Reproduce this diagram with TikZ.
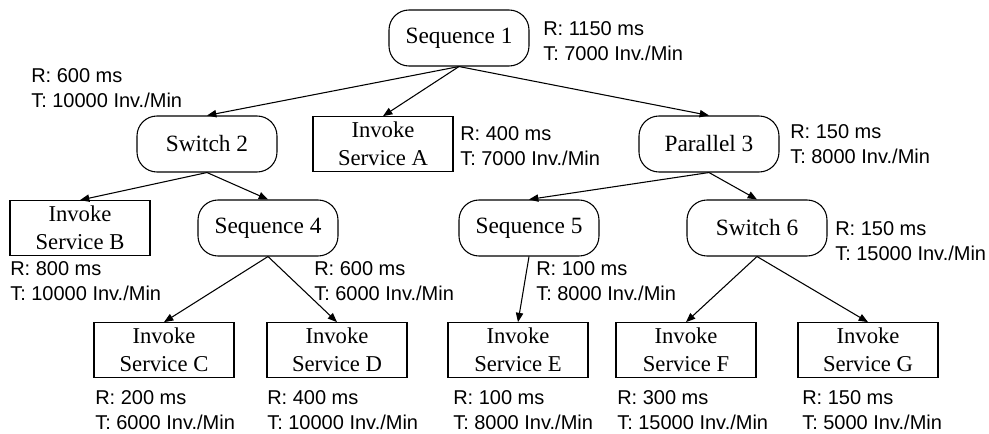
\documentclass[tikz,border=0pt]{standalone}
\usepackage{fontspec}
\setmainfont{Liberation Serif}
\newfontfamily\qosfont{Liberation Sans}
\usetikzlibrary{arrows.meta}

\tikzset{
  ctrl/.style={draw, rounded corners=15pt, minimum width=105pt, minimum height=42pt,
    line width=0.8pt, font=\fontsize{17.5}{21}\selectfont},
  invoke/.style={draw, rectangle, minimum width=105pt, minimum height=41pt, align=center,
    line width=0.8pt, inner sep=1pt, font=\fontsize{17}{21}\selectfont},
  qos/.style={anchor=west, align=left, inner sep=0pt, font=\qosfont\fontsize{15}{18.75}\selectfont},
  arr/.style={-{Triangle[length=7pt,width=5.5pt]}, line width=0.8pt}
}

\begin{document}
\begin{tikzpicture}[x=0.75pt, y=-0.75pt]
        \useasboundingbox (0,0) rectangle (989,434);
        % activities
        \node[ctrl] (seq1) at (459, 38) {Sequence 1};
        \node[ctrl] (sw2) at (207, 144) {Switch 2};
        \node[invoke] (invA) at (383, 144) {Invoke\\Service A};
        \node[ctrl] (par3) at (709, 144) {Parallel 3};
        \node[invoke] (invB) at (80, 228) {Invoke\\Service B};
        \node[ctrl] (seq4) at (268, 228) {Sequence 4};
        \node[ctrl] (seq5) at (529, 228) {Sequence 5};
        \node[ctrl] (sw6) at (757, 228) {Switch 6};
        \node[invoke] (invC) at (164, 350) {Invoke\\Service C};
        \node[invoke] (invD) at (337, 350) {Invoke\\Service D};
        \node[invoke] (invE) at (518, 350) {Invoke\\Service E};
        \node[invoke] (invF) at (686, 350) {Invoke\\Service F};
        \node[invoke] (invG) at (868, 350) {Invoke\\Service G};
        % response time / throughput
        \node[qos] (q1) at (543, 41) {R: 1150 ms\\T: 7000 Inv./Min};
        \node[qos] (q2) at (31, 88) {R: 600 ms\\T: 10000 Inv./Min};
        \node[qos] (qA) at (460, 146) {R: 400 ms\\T: 7000 Inv./Min};
        \node[qos] (q3) at (790, 144) {R: 150 ms\\T: 8000 Inv./Min};
        \node[qos] (qB) at (10, 281) {R: 800 ms\\T: 10000 Inv./Min};
        \node[qos] (q4) at (314, 281) {R: 600 ms\\T: 6000 Inv./Min};
        \node[qos] (q5) at (536, 281) {R: 100 ms\\T: 8000 Inv./Min};
        \node[qos] (q6) at (835, 241) {R: 150 ms\\T: 15000 Inv./Min};
        \node[qos] (qC) at (95, 410) {R: 200 ms\\T: 6000 Inv./Min};
        \node[qos] (qD) at (267, 410) {R: 400 ms\\T: 10000 Inv./Min};
        \node[qos] (qE) at (453, 410) {R: 100 ms\\T: 8000 Inv./Min};
        \node[qos] (qF) at (617, 410) {R: 300 ms\\T: 15000 Inv./Min};
        \node[qos] (qG) at (802, 410) {R: 150 ms\\T: 5000 Inv./Min};
        % edges
        \draw[arr] (seq1.south) -- (sw2.north);
        \draw[arr] (seq1.south) -- (invA.north);
        \draw[arr] (seq1.south) -- (par3.north);
        \draw[arr] (sw2.south) -- (invB.north);
        \draw[arr] (sw2.south) -- (seq4.north);
        \draw[arr] (par3.south) -- (seq5.north);
        \draw[arr] (par3.south) -- (sw6.north);
        \draw[arr] (seq4.south) -- (invC.north);
        \draw[arr] (seq4.south) -- (invD.north);
        \draw[arr] (seq5.south) -- (invE.north);
        \draw[arr] (sw6.south) -- (invF.north);
        \draw[arr] (sw6.south) -- (invG.north);
      \end{tikzpicture}
\end{document}
